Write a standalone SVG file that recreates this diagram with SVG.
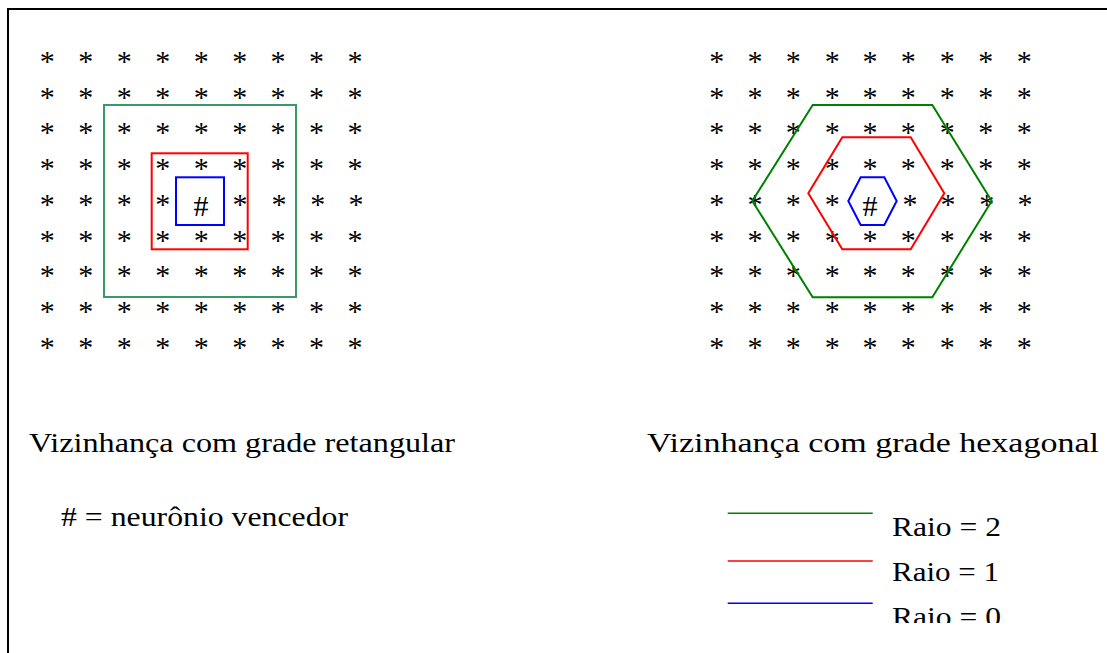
<svg xmlns="http://www.w3.org/2000/svg" width="1107" height="653" viewBox="0 0 1107 653">
<style>
text{font-family:"Liberation Serif","Times New Roman",serif;fill:#000}
.ast{font-size:30px;text-anchor:middle}
.lbl{font-size:28px}
.sh{fill:none;stroke-width:2}
.g1{stroke:#3a9a66}
.g2{stroke:#008000}
.r{stroke:#ff0000}
.b{stroke:#0000ff}
</style>
<defs>
<clipPath id="clipR"><rect x="0" y="0" width="1107" height="623"/></clipPath>
</defs>
<rect width="1107" height="653" fill="#fff"/>
<path d="M8 653 V9 H1107" fill="none" stroke="#000" stroke-width="2"/>
<g id="grid-left">
<text class="ast" x="47.3 85.8 124.2 162.7 201.2 239.7 278.1 316.6 355" y="70.9">*********</text>
<text class="ast" x="47.3 85.8 124.2 162.7 201.2 239.7 278.1 316.6 355" y="106.65">*********</text>
<text class="ast" x="47.3 85.8 124.2 162.7 201.2 239.7 278.1 316.6 355" y="142.4">*********</text>
<text class="ast" x="47.3 85.8 124.2 162.7 201.2 239.7 278.1 316.6 355" y="178.15">*********</text>
<text class="ast" x="47.3 85.8 124.2 162.7" y="213.9">****</text>
<text class="ast" x="240 279 317.7 356" y="213.9">****</text>
<text class="ast" x="201" y="215.5">#</text>
<text class="ast" x="47.3 85.8 124.2 162.7 201.2 239.7 278.1 316.6 355" y="249.65">*********</text>
<text class="ast" x="47.3 85.8 124.2 162.7 201.2 239.7 278.1 316.6 355" y="285.4">*********</text>
<text class="ast" x="47.3 85.8 124.2 162.7 201.2 239.7 278.1 316.6 355" y="321.15">*********</text>
<text class="ast" x="47.3 85.8 124.2 162.7 201.2 239.7 278.1 316.6 355" y="356.9">*********</text>
</g>
<g id="grid-right">
<text class="ast" x="716.7 755 793.3 832.3 870 908.3 947.3 985.7 1024.3" y="70.9">*********</text>
<text class="ast" x="716.7 755 793.3 832.3 870 908.3 947.3 985.7 1024.3" y="106.65">*********</text>
<text class="ast" x="716.7 755 793.3 832.3 870 908.3 947.3 985.7 1024.3" y="142.4">*********</text>
<text class="ast" x="716.7 755 793.3 832.3 870 908.3 947.3 985.7 1024.3" y="178.15">*********</text>
<text class="ast" x="716.7 755 793.3 832.3" y="213.9">****</text>
<text class="ast" x="910 948 986.7 1025" y="213.9">****</text>
<text class="ast" x="870" y="215.5">#</text>
<text class="ast" x="716.7 755 793.3 832.3 870 908.3 947.3 985.7 1024.3" y="249.65">*********</text>
<text class="ast" x="716.7 755 793.3 832.3 870 908.3 947.3 985.7 1024.3" y="285.4">*********</text>
<text class="ast" x="716.7 755 793.3 832.3 870 908.3 947.3 985.7 1024.3" y="321.15">*********</text>
<text class="ast" x="716.7 755 793.3 832.3 870 908.3 947.3 985.7 1024.3" y="356.9">*********</text>
</g>
<g id="rect-neighborhood">
<rect class="sh g1" x="104" y="105" width="192" height="192"/>
<rect class="sh r" x="151.7" y="153.3" width="96" height="96"/>
<rect class="sh b" x="176" y="177.3" width="48" height="47.7"/>
</g>
<g id="hex-neighborhood">
<polygon class="sh g2" points="812.7,105 932.3,105 991.7,201 932.3,297.3 812.7,297.3 752.3,201"/>
<polygon class="sh r" points="842.3,137.3 910.7,137.3 944.3,193.3 910.7,249.3 842.3,249.3 808.3,193.3"/>
<polygon class="sh b" points="860.7,177.3 884.3,177.3 896.7,201 884.3,225 860.7,225 848.3,201"/>
</g>
<g id="labels">
<text class="lbl" x="29" y="452" textLength="426" lengthAdjust="spacingAndGlyphs">Vizinhança com grade retangular</text>
<text class="lbl" x="647" y="452" textLength="452" lengthAdjust="spacingAndGlyphs">Vizinhança com grade hexagonal</text>
<text class="lbl" x="61" y="526" textLength="287" lengthAdjust="spacingAndGlyphs"># = neurônio vencedor</text>
</g>
<g id="legend">
<line class="g2" x1="727.7" y1="513.3" x2="872.7" y2="513.3" stroke-width="1.6"/>
<line class="r" x1="727.7" y1="561" x2="872.7" y2="561" stroke-width="1.6"/>
<line class="b" x1="727.7" y1="603.3" x2="872.7" y2="603.3" stroke-width="1.6"/>
<text class="lbl" x="892" y="536" textLength="109" lengthAdjust="spacingAndGlyphs">Raio = 2</text>
<text class="lbl" x="892" y="580.7" textLength="107" lengthAdjust="spacingAndGlyphs">Raio = 1</text>
<text class="lbl" x="892" y="625.5" textLength="109" lengthAdjust="spacingAndGlyphs" clip-path="url(#clipR)">Raio = 0</text>
</g>
</svg>
